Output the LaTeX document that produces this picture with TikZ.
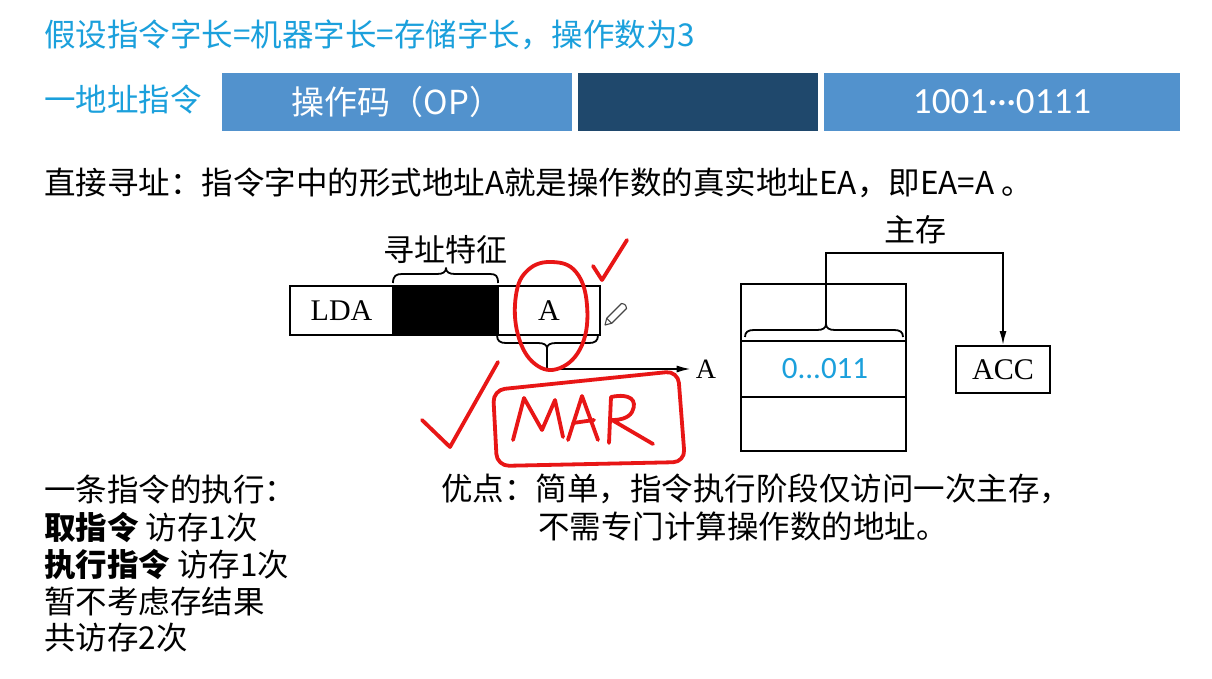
\documentclass[tikz,border=0pt]{standalone}
\usepackage{fontspec}
\setmainfont{Liberation Serif}
\newfontfamily\cjk{Noto Sans CJK SC}
\newfontfamily\carlito{Carlito}
\usetikzlibrary{arrows.meta}

\definecolor{titleblue}{RGB}{27,160,220}
\definecolor{barblue}{RGB}{82,146,205}
\definecolor{barnavy}{RGB}{31,72,108}
\definecolor{inkred}{RGB}{232,22,22}
\definecolor{pencilgray}{RGB}{70,70,70}

\begin{document}
\begin{tikzpicture}[x=1pt,y=-1pt,
  txt/.style={inner sep=0pt, anchor=west, font=\cjk\fontsize{31.5}{31.5}\selectfont},
  bluetxt/.style={txt, text=titleblue},
  barcell/.style={draw=none, inner sep=0pt, minimum height=58pt, text=white,
                  font=\cjk\fontsize{33}{33}\selectfont},
  cell/.style={draw, line width=1.8pt, inner sep=0pt, minimum height=49pt,
               font=\fontsize{30}{30}\selectfont},
  label/.style={inner sep=0pt, font=\cjk\fontsize{31}{31}\selectfont},
  wire/.style={line width=1.8pt},
  brace/.style={line width=1.8pt, line join=round},
  ink/.style={draw=inkred, line width=3.8pt, line cap=round, line join=round}]

\useasboundingbox[fill=white] (0,0) rectangle (1212,679);

% heading lines
\node[bluetxt] (title) at (44,35) {假设指令字长=机器字长=存储字长，操作数为3};
\node[bluetxt] (kind) at (44,100) {一地址指令};

% instruction format bar
\node[barcell, fill=barblue, minimum width=350pt] (op) at (397,102) {操作码（OP）};
\node[barcell, fill=barnavy, minimum width=240pt] (mode) at (698,102) {};
\node[barcell, fill=barblue, minimum width=356pt, font=\carlito\fontsize{37}{37}\selectfont]
  (addr) at (1002,102) {1001···0111};

\node[txt] (def) at (44,183) {直接寻址：指令字中的形式地址A就是操作数的真实地址EA，即EA=A 。};

% instruction word
\node[cell, minimum width=103pt] (lda) at (341.5,310.5) {LDA};
\node[cell, minimum width=105pt, fill=black] (flag) at (445.5,310.5) {};
\node[cell, minimum width=102pt] (fa) at (549,310.5) {A};
\node[label] (flaglabel) at (445,250) {寻址特征};

% brace over the addressing-mode field
\draw[brace] (393,283) .. controls (393,276) and (396,274) .. (402,274)
  -- (437,274) .. controls (443,274) and (446,272) .. (446,268)
  .. controls (446,272) and (449,274) .. (455,274)
  -- (490,274) .. controls (496,274) and (498,276) .. (498,283);

% brace under the address field, leading to A
\coordinate (atip) at (547,348);
\draw[brace] (497,335) .. controls (497,341) and (500,343) .. (506,343)
  -- (538,343) .. controls (544,343) and (547,345) .. (atip)
  .. controls (547,345) and (550,343) .. (556,343)
  -- (589,343) .. controls (595,343) and (598,341) .. (598,335);
\node[inner sep=0pt, font=\fontsize{28}{28}\selectfont] (alab) at (706,369) {A};
\draw[wire, -{Latex[length=14pt,width=7pt]}] (atip) -- (547,369) -- ([xshift=-5pt]alab.west |- 0,369);

% main memory
\node[draw, line width=1.8pt, minimum width=165pt, minimum height=167pt, inner sep=0pt]
  (mem) at (823.5,367.5) {};
\draw[wire] (741,341) -- (906,341);
\draw[wire] (741,397) -- (906,397);
\node[inner sep=0pt, text=titleblue, font=\carlito\fontsize{31}{31}\selectfont] (word) at (825,369) {0...011};
\node[label] (memlabel) at (915,230) {主存};

\coordinate (mtip) at (826,324);
\draw[brace] (745,337) .. controls (745,332) and (748,330) .. (754,330)
  -- (817,330) .. controls (823,330) and (826,328) .. (mtip)
  .. controls (826,328) and (829,330) .. (835,330)
  -- (894,330) .. controls (900,330) and (903,332) .. (903,337);

\node[cell, minimum width=94pt, minimum height=47pt] (acc) at (1003,369.5) {ACC};
\draw[wire, -{Latex[length=14pt,width=7pt]}] (mtip) -- (826,253) -| (acc.north);

% pencil cursor
\draw[pencilgray, line width=1.1pt, line join=round]
  (605,325) -- (611.7,323.3) -- (626.5,308.5) .. controls (626,305) and (625,304) .. (621.5,303.5)
  -- (606.7,318.3) -- cycle;
\draw[pencilgray, line width=1.1pt] (606.7,318.3) -- (611.7,323.3);

% red hand annotations
\draw[ink] plot[smooth cycle, tension=0.7] coordinates
  {(552,262) (576,272) (587,305) (582,345) (560,368) (535,364) (518,335) (516,295) (528,270)};
\draw[ink] (593,266) -- (602,280) -- (627,240);
\draw[ink] (422,420) -- (450,447) -- (498,362);
\draw[ink, rounded corners=12pt] (497,466) -- (493,390) -- (678,371) -- (685,462) -- cycle;
% M
\draw[ink] (513,440) -- (524,398) -- (542,430) -- (555,400) -- (563,437);
% A
\draw[ink] (568,440) -- (582,396) -- (598,440);
\draw[ink] (573,423) -- (594,420);
% R
\draw[ink] (609,443) -- (611,397) .. controls (630,393) and (638,400) .. (632,412)
  .. controls (628,419) and (618,420) .. (612,420) -- (653,444);

% execution summary
\node[txt] (s1) at (44,490) {一条指令的执行：};
\node[txt] (s2) at (44,527) {\bfseries 取指令\mdseries\ 访存1次};
\node[txt] (s3) at (44,564) {\bfseries 执行指令\mdseries\ 访存1次};
\node[txt] (s4) at (44,601) {暂不考虑存结果};
\node[txt] (s5) at (44,638) {共访存2次};

% advantages
\node[txt] (p1) at (441,489) {优点：简单，指令执行阶段仅访问一次主存，};
\node[txt] (p2) at (538,526) {不需专门计算操作数的地址。};

\end{tikzpicture}
\end{document}
